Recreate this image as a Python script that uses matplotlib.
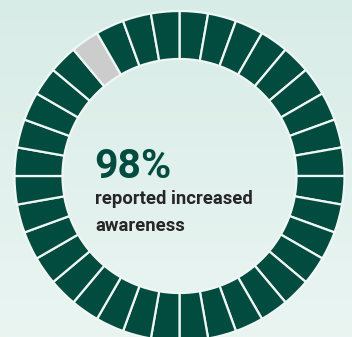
import numpy as np
import matplotlib.pyplot as plt
import matplotlib.colors as mcolors

# donut made of 36 equal ticks, one of them grey
n_segments = 36
grey_index = 32          # counted clockwise from 12 o'clock
segment_values = [1] * n_segments
headline = "98%"
caption_lines = ["reported increased", "awareness"]

green = "#024c3f"
grey = "#cccccc"
colors = [grey if i == grey_index else green for i in range(n_segments)]

W, H = 352, 337
fig = plt.figure(figsize=(W / 100, H / 100), dpi=100)
ax = fig.add_axes([0, 0, 1, 1])

# soft vertical background gradient
cmap = mcolors.LinearSegmentedColormap.from_list("bg", ["#eaf5f2", "#d8ece7"])
grad = np.linspace(0, 1, 256).reshape(-1, 1)
ax.imshow(grad, extent=(0, W, 0, H), origin="lower", cmap=cmap, aspect="auto", zorder=0)

cx, cy = 179.5, H - 176
r_out, r_in = 165, 117
ax.pie(segment_values, colors=colors, startangle=90, counterclock=False,
       center=(cx, cy), radius=r_out,
       wedgeprops=dict(width=r_out - r_in, edgecolor="#eef7f4", linewidth=1.6),
       frame=True)

fam = ["Roboto", "DejaVu Sans"]
ax.text(94, H - 178, headline, fontsize=29.5, fontweight="bold", color=green,
        family=fam, va="baseline", ha="left")
for i, line in enumerate(caption_lines):
    ax.text(95, H - 204 - 27 * i, line, fontsize=13.3, fontweight="bold",
            color="#262626", family=fam, va="baseline", ha="left")

ax.set_xlim(0, W)
ax.set_ylim(0, H)
ax.set_aspect("auto")
ax.axis("off")

fig.savefig("out.png", dpi=100)
